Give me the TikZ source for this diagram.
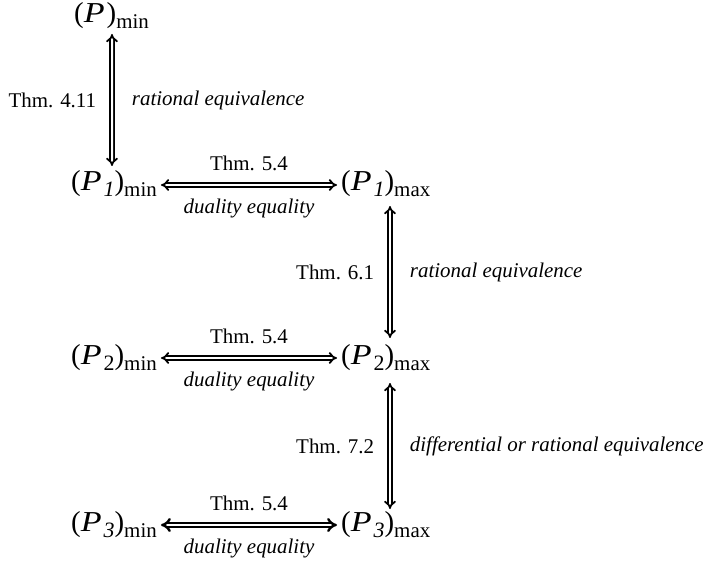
\documentclass[tikz,border=0pt]{standalone}
\usepackage{fontspec}
\usepackage{graphicx}
\setmainfont{Liberation Serif}
\usetikzlibrary{arrows.meta,positioning}

\newcommand{\prob}[2]{{\fontsize{29}{32}\selectfont(\scalebox{1.18}[1]{\textit{P}}\kern2bp\raisebox{-6bp}{\fontsize{22}{24}\selectfont#1})\raisebox{-6bp}{\fontsize{21}{23}\selectfont#2}}}

\begin{document}
\begin{tikzpicture}[
  x=1bp, y=-1bp,
  prob/.style={inner sep=0pt, anchor=base west},
  dbl/.style={double, double distance=2bp, line width=1.8bp, {Implies[scale=1.3]}-{Implies[scale=1.3]}},
  thm/.style={font=\fontsize{21}{24}\selectfont, inner sep=0pt},
  note/.style={font=\fontsize{21}{24}\selectfont\itshape, inner sep=0pt}
]
  \useasboundingbox (0,0) rectangle (706,570);

  % Problems
  \node[prob] (p0) at (74,23) {\prob{}{min}};
  \node[prob] (p1min) at (71,191) {\prob{\textit{1}}{min}};
  \node[prob] (p1max) at (341,191) {\prob{\textit{1}}{max}};
  \node[prob] (p2min) at (71,364) {\prob{2}{min}};
  \node[prob] (p2max) at (341,364) {\prob{2}{max}};
  \node[prob] (p3min) at (71,531) {\prob{\textit{3}}{min}};
  \node[prob] (p3max) at (341,531) {\prob{\textit{3}}{max}};

  % Equivalences
  \draw[dbl] ([xshift=38bp,yshift=-11bp]p0.base west) --
    node[thm, left=15bp] {Thm. 4.11} node[note, right=19bp] {rational equivalence}
    ([xshift=41bp,yshift=25bp]p1min.base west);
  \draw[dbl] ([xshift=49bp,yshift=-15bp]p1max.base west) --
    node[thm, left=15bp] {Thm. 6.1} node[note, right=19bp] {rational equivalence}
    ([xshift=49bp,yshift=26bp]p2max.base west);
  \draw[dbl] ([xshift=49bp,yshift=-19bp]p2max.base west) --
    node[thm, left=15bp] {Thm. 7.2} node[note, right=19bp] {differential or rational equivalence}
    ([xshift=49bp,yshift=22bp]p3max.base west);

  % Dualities
  \draw[dbl] ([xshift=4bp,yshift=6bp]p1min.base east) --
    node[thm, above=13bp] {Thm. 5.4} node[note, below=13bp] {duality equality}
    ([xshift=-4bp,yshift=6bp]p1max.base west);
  \draw[dbl] ([xshift=4bp,yshift=6bp]p2min.base east) --
    node[thm, above=13bp] {Thm. 5.4} node[note, below=13bp] {duality equality}
    ([xshift=-4bp,yshift=6bp]p2max.base west);
  \draw[dbl, line width=2.4bp] ([xshift=4bp,yshift=6bp]p3min.base east) --
    node[thm, above=13bp] {Thm. 5.4} node[note, below=13bp] {duality equality}
    ([xshift=-4bp,yshift=6bp]p3max.base west);
\end{tikzpicture}
\end{document}
